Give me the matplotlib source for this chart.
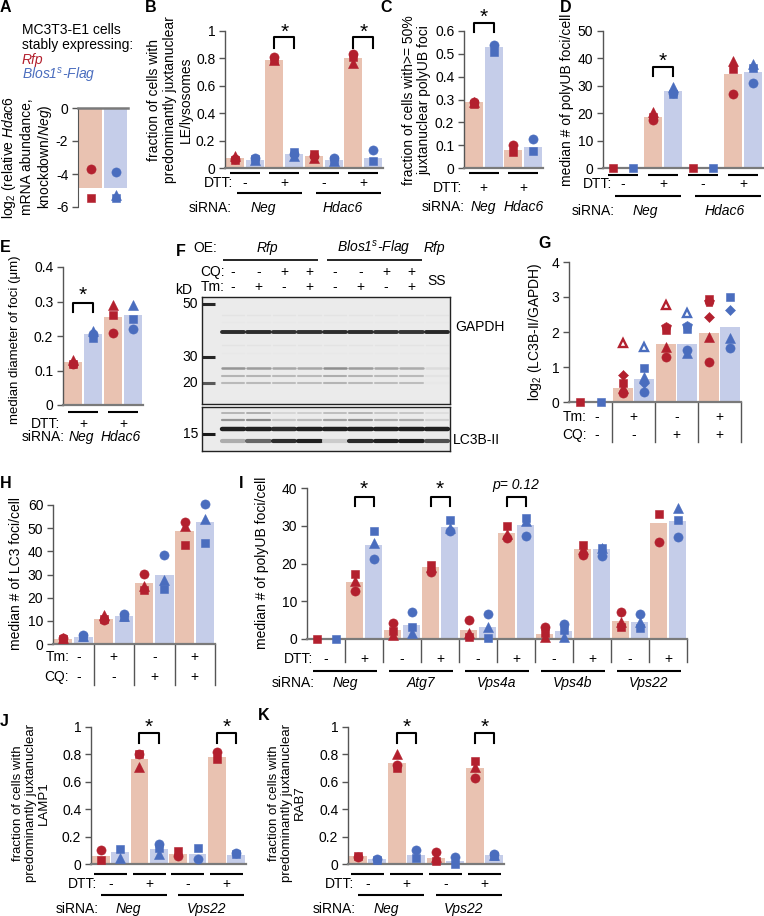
import matplotlib
matplotlib.use('Agg')
import matplotlib.pyplot as plt
from matplotlib.transforms import Affine2D, blended_transform_factory

plt.rcParams['font.family'] = ['Liberation Sans', 'DejaVu Sans']
plt.rcParams['mathtext.fontset'] = 'custom'
plt.rcParams['mathtext.rm'] = 'Liberation Sans'
plt.rcParams['mathtext.it'] = 'Liberation Sans:italic'
plt.rcParams['mathtext.bf'] = 'Liberation Sans:bold'
plt.rcParams['axes.unicode_minus'] = False
plt.rcParams['font.size'] = 10

# ---------------- data ----------------
a_bars = [-4.85, -4.85]
a_circle = [-3.7, -3.9]
a_square = [-5.45, -5.45]
a_triangle = [None, -5.3]

b_bars = [0.07, 0.06, 0.79, 0.105, 0.085, 0.055, 0.805, 0.075]
b_circle = [0.065, 0.075, 0.81, 0.10, 0.09, 0.07, 0.83, 0.13]
b_square = [0.06, 0.065, 0.79, 0.12, 0.10, 0.055, 0.81, 0.05]
b_triangle = [0.085, 0.06, 0.79, 0.085, 0.07, 0.05, 0.77, None]
b_dtt = ['-', '+', '-', '+']
b_sirna = ['Neg', 'Hdac6']

c_bars = [0.29, 0.53, 0.078, 0.092]
c_circle = [0.29, 0.54, 0.10, 0.125]
c_square = [0.28, 0.51, 0.07, 0.075]
c_triangle = [0.29, None, None, None]
c_dtt = ['+', '+']
c_sirna = ['Neg', 'Hdac6']

d_bars = [0, 0, 18.7, 28.0, 0, 0, 34.3, 35.2]
d_circle = [None, None, 17.5, 27.5, None, None, 27.0, 31.0]
d_square = [0, 0, 18.5, 27.0, 0, 0, 36.0, 36.5]
d_triangle = [None, None, 20.5, 29.5, None, None, 39.0, 38.0]
d_dtt = ['-', '+', '-', '+']
d_sirna = ['Neg', 'Hdac6']

e_bars = [0.125, 0.205, 0.255, 0.26]
e_circle = [0.12, 0.205, 0.21, 0.22]
e_square = [0.12, 0.195, 0.26, 0.25]
e_triangle = [0.13, 0.215, 0.29, 0.29]
e_dtt = ['+', '+']
e_sirna = ['Neg', 'Hdac6']

f_cq = ['-', '-', '+', '+', '-', '-', '+', '+']
f_tm = ['-', '+', '-', '+', '-', '+', '-', '+']
f_ladder_kd = ['50', '30', '20', '15']
f_gapdh = [0.9, 0.9, 0.88, 0.88, 0.9, 0.9, 0.88, 0.86, 0.92]
f_band_a = [0.45, 0.42, 0.38, 0.38, 0.48, 0.42, 0.38, 0.36, 0.15]
f_band_b = [0.32, 0.32, 0.3, 0.3, 0.35, 0.32, 0.3, 0.3, 0.12]
f_band_c = [0.3, 0.3, 0.28, 0.28, 0.32, 0.3, 0.28, 0.28, 0.1]
f_lc3_top = [0.45, 0.5, 0.25, 0.3, 0.4, 0.45, 0.35, 0.35, 0.2]
f_lc3b_i = [0.95, 0.95, 0.9, 0.95, 0.95, 0.95, 0.95, 0.95, 0.95]
f_lc3b_ii = [0.35, 0.65, 0.9, 0.95, 0.22, 0.9, 0.95, 0.95, 0.75]

g_bars = [0, 0, 0.40, 0.67, 1.65, 1.65, 1.97, 2.13]
g_circle = [None, None, 0.27, 0.30, 1.29, 1.50, 1.14, 1.55]
g_square = [0, 0, 0.53, 0.98, 2.05, 2.08, 2.95, 3.00]
g_triangle = [None, None, 0.40, 0.72, 1.58, 1.39, 1.86, 1.84]
g_diamond = [None, None, 0.76, 0.55, None, None, 2.44, 2.63]
g_open_tri = [None, None, 1.69, 1.58, 2.77, 2.55, None, None]
g_pentagon = [None, None, None, None, 2.13, 2.17, 2.86, None]
g_tm = ['-', '+', '-', '+']
g_cq = ['-', '-', '+', '+']

h_bars = [2.3, 3.2, 11.0, 12.2, 26.3, 29.8, 48.8, 52.6]
h_circle = [2.8, 4.0, 10.5, 12.8, 30.2, 38.4, 52.6, 60.3]
h_square = [2.0, 3.0, 11.0, 11.5, 23.5, 23.7, 42.7, 43.5]
h_triangle = [2.5, 3.5, 12.5, 12.0, 25.0, 27.6, 51.0, 54.0]
h_tm = ['-', '+', '-', '+']
h_cq = ['-', '-', '+', '+']

i_bars = [0, 0, 15.0, 25.0, 2.3, 3.6, 19.0, 29.7, 2.3, 3.2, 28.0, 30.3,
          1.3, 2.1, 23.8, 23.8, 4.7, 4.5, 30.7, 31.3]
i_circle = [None, None, 12.7, 21.3, 4.2, 7.2, 17.7, 28.5, 5.1, 6.6, 26.8, 27.4,
            3.1, 4.1, 22.2, 22.0, 7.1, 6.6, 25.7, 27.1]
i_square = [0, 0, 17.1, 28.5, 2.0, 3.1, 19.7, 31.5, 0.5, 0.3, 30.0, 32.0,
            1.5, 2.3, 24.9, 24.0, 3.1, 3.0, 33.1, 31.6]
i_triangle = [None, None, 15.3, 25.5, 1.0, 1.6, 19.0, 29.5, 1.5, 3.1, 27.9, 31.3,
              0.5, 0.5, 23.8, 24.0, 4.5, 4.6, None, 34.8]
i_dtt = ['-', '+', '-', '+', '-', '+', '-', '+', '-', '+']
i_sirna = ['Neg', 'Atg7', 'Vps4a', 'Vps4b', 'Vps22']

j_bars = [0.055, 0.085, 0.77, 0.11, 0.07, 0.07, 0.78, 0.065]
j_circle = [0.10, None, 0.80, 0.145, 0.06, 0.04, 0.82, 0.08]
j_square = [0.03, 0.11, 0.80, 0.12, 0.095, 0.12, 0.77, 0.07]
j_triangle = [None, 0.045, 0.71, 0.07, None, None, None, None]
j_dtt = ['-', '+', '-', '+']
j_sirna = ['Neg', 'Vps22']

k_bars = [0.055, 0.035, 0.74, 0.065, 0.045, 0.02, 0.70, 0.065]
k_circle = [0.05, 0.04, 0.72, 0.10, 0.09, 0.05, 0.63, 0.075]
k_square = [0.06, 0.03, 0.70, 0.045, 0.02, 0.0, 0.75, 0.06]
k_triangle = [None, None, 0.80, None, 0.05, None, 0.71, 0.065]
k_dtt = ['-', '+', '-', '+']
k_sirna = ['Neg', 'Vps22']

# ---------------- style ----------------
RFP_BAR = '#E9C2B1'
BLOS_BAR = '#C5CDE9'
RFP_PT = '#B3202E'
BLOS_PT = '#4A6DBE'
SPINE = '#555555'
BASE = '#7a7a7a'

W, H = 764, 916
fig = plt.figure(figsize=(W / 100, H / 100), dpi=100)
fig.patch.set_facecolor('white')
PX = Affine2D().scale(1 / W, -1 / H).translate(0, 1) + fig.transFigure


def px_axes(l, t, r, b):
    return fig.add_axes([l / W, 1 - b / H, (r - l) / W, (b - t) / H])


def bx(ax):
    return blended_transform_factory(ax.transData, PX)


def ftext(x, y, s, **kw):
    kw.setdefault('ha', 'center')
    kw.setdefault('va', 'center')
    fig.text(x, y, s, transform=PX, **kw)


def letter(x, y, s):
    ftext(x, y, s, ha='left', fontsize=11.5, fontweight='bold')


def ylab(x, y, s, fs=10):
    ftext(x, y, s, rotation=90, multialignment='center', linespacing=1.15, fontsize=fs)


def bar_axes(l, t, r, b, n, ylim, ticks, labels):
    ax = px_axes(l, t, r, b)
    ax.set_xlim(-0.5, n - 0.5)
    ax.set_ylim(*ylim)
    ax.set_yticks(ticks)
    ax.set_yticklabels(labels)
    ax.set_xticks([])
    for s in ('top', 'right'):
        ax.spines[s].set_visible(False)
    ax.spines['left'].set_color(SPINE)
    ax.spines['left'].set_linewidth(1.0)
    ax.spines['bottom'].set_color(BASE)
    ax.spines['bottom'].set_linewidth(1.6)
    ax.tick_params(axis='y', direction='out', length=4, width=1, color=SPINE,
                   labelsize=10, pad=3)
    ax.patch.set_visible(False)
    return ax


def draw_bars(ax, vals, width=0.92):
    cols = [RFP_BAR if i % 2 == 0 else BLOS_BAR for i in range(len(vals))]
    ax.bar(range(len(vals)), vals, width=width, color=cols, zorder=1, linewidth=0)


def draw_pts(ax, vals, marker, ms, open_=False):
    for i, v in enumerate(vals):
        if v is None:
            continue
        c = RFP_PT if i % 2 == 0 else BLOS_PT
        ax.plot([i], [v], marker=marker, ms=ms, color=c, mec=c,
                mfc='white' if open_ else c, mew=1.7 if open_ else 0.4,
                ls='none', zorder=3, clip_on=False)


def std_pts(ax, circ, sq, tri):
    draw_pts(ax, circ, 'o', 6.6)
    draw_pts(ax, sq, 's', 5.8)
    draw_pts(ax, tri, '^', 6.8)


def hl(ax, x1, x2, y, lw=1.5, color='k'):
    ax.plot([x1, x2], [y, y], transform=bx(ax), color=color, lw=lw,
            clip_on=False, solid_capstyle='butt')


def vl(ax, x, y1, y2, lw=1.0, color=SPINE):
    ax.plot([x, x], [y1, y2], transform=bx(ax), color=color, lw=lw, clip_on=False)


def tx(ax, x, y, s, **kw):
    kw.setdefault('ha', 'center')
    kw.setdefault('va', 'center')
    ax.text(x, y, s, transform=bx(ax), clip_on=False, **kw)


def bracket(ax, i1, i2, ytop, ybot, ystar, s='*', **kw):
    ax.plot([i1, i1, i2, i2], [ybot, ytop, ytop, ybot], transform=bx(ax),
            color='k', lw=1.5, clip_on=False)
    if s == '*':
        tx(ax, (i1 + i2) / 2, ystar + 10, '*', fontsize=15, va='baseline')
    else:
        tx(ax, (i1 + i2) / 2, ystar, s, **kw)


def pair_annot(ax, dtt, sirna, y_l1, y_dtt, y_l2, y_si, dtt_x, si_x,
               half1=0.75, half2=1.65, off2=0.25, lab_off=0.0):
    for k, s in enumerate(dtt):
        c = 2 * k + 0.5
        hl(ax, c - half1, c + half1, y_l1)
        tx(ax, c, y_dtt, s)
    tx(ax, dtt_x, y_dtt, 'DTT:', ha='right')
    per = len(dtt) // len(sirna)
    for k, s in enumerate(sirna):
        c = 2 * per * k + per - 0.5
        if per > 1:
            hl(ax, c + off2 - half2, c + off2 + half2, y_l2)
        tx(ax, c + lab_off, y_si, s, style='italic')
    tx(ax, si_x, y_si, 'siRNA:', ha='right')


# ---------------- Panel A ----------------
letter(0, 8, 'A')
ftext(22, 30, 'MC3T3-E1 cells', ha='left')
ftext(22, 45, 'stably expressing:', ha='left')
ftext(22, 60, 'Rfp', ha='left', style='italic', color=RFP_PT)
ftext(22, 75, r'Blos1$^{s}$-Flag', ha='left', style='italic', color=BLOS_PT)
axA = px_axes(78, 108, 128, 207)
axA.set_xlim(-0.5, 1.5)
axA.set_ylim(-6, 0)
axA.set_yticks([0, -2, -4, -6])
axA.set_yticklabels(['0', '-2', '-4', '-6'])
axA.set_xticks([])
for s in ('bottom', 'right'):
    axA.spines[s].set_visible(False)
axA.spines['left'].set_color(SPINE)
axA.spines['top'].set_color(BASE)
axA.spines['top'].set_linewidth(1.8)
axA.tick_params(axis='y', direction='out', length=4, width=1, color=SPINE, labelsize=10, pad=3)
axA.patch.set_visible(False)
draw_bars(axA, a_bars, width=0.9)
draw_pts(axA, a_circle, 'o', 6.6)
draw_pts(axA, a_triangle, '^', 6.8)
draw_pts(axA, a_square, 's', 5.8)
ylab(27, 157, 'log$_2$ (relative $\\mathit{Hdac6}$\nmRNA abundance,\nknockdown/$\\mathit{Neg}$)')

# ---------------- Panel B ----------------
letter(145, 8, 'B')
axB = bar_axes(225, 31, 383, 168, 8, (0, 1), [0, 0.2, 0.4, 0.6, 0.8, 1],
               ['0', '0.2', '0.4', '0.6', '0.8', '1'])
draw_bars(axB, b_bars)
std_pts(axB, b_circle, b_square, b_triangle)
bracket(axB, 2, 3, 37, 48, 28)
bracket(axB, 6, 7, 37, 48, 28)
pair_annot(axB, b_dtt, b_sirna, 173, 183, 193, 208, -0.1, -0.15, lab_off=-0.05)
ylab(170, 100, 'fraction of cells with\npredominantly juxtanuclear\nLE/lysosomes')

# ---------------- Panel C ----------------
letter(380, 8, 'C')
axC = bar_axes(464, 31, 543, 168, 4, (0, 0.6), [0, 0.1, 0.2, 0.3, 0.4, 0.5, 0.6],
               ['0', '0.1', '0.2', '0.3', '0.4', '0.5', '0.6'])
draw_bars(axC, c_bars)
std_pts(axC, c_circle, c_square, c_triangle)
bracket(axC, 0, 1, 23, 32, 13)
pair_annot(axC, c_dtt, c_sirna, 173, 188, None, 207, -0.6, -0.45)
ylab(417, 100, 'fraction of cells with>= 50%\njuxtanuclear polyUB foci')

# ---------------- Panel D ----------------
letter(560, 8, 'D')
axD = bar_axes(603, 31, 763, 168, 8, (0, 50), [0, 10, 20, 30, 40, 50],
               ['0', '10', '20', '30', '40', '50'])
draw_bars(axD, d_bars)
std_pts(axD, d_circle, d_square, d_triangle)
bracket(axD, 2, 3, 67, 76, 57)
pair_annot(axD, d_dtt, d_sirna, 175, 184, 196, 211, -0.05, 0.1, lab_off=0.1)
ylab(567, 100, 'median # of polyUB foci/cell')

# ---------------- Panel E ----------------
letter(0, 247, 'E')
axE = bar_axes(63, 267, 143, 405, 4, (0, 0.4), [0, 0.1, 0.2, 0.3, 0.4],
               ['0', '0.1', '0.2', '0.3', '0.4'])
draw_bars(axE, e_bars)
std_pts(axE, e_circle, e_square, e_triangle)
bracket(axE, 0, 1, 303, 312, 291)
pair_annot(axE, e_dtt, e_sirna, 412, 424, None, 437, -0.65, -0.4, lab_off=-0.1)
ylab(15, 340, 'median diameter of foci (μm)', fs=9.5)

# ---------------- Panel F (blot) ----------------
letter(176, 251, 'F')
lanes = list(range(9))
ftext(217, 248, 'OE:', ha='right')
ftext(267, 248, 'Rfp', style='italic')
ftext(374, 248, r'Blos1$^{s}$-Flag', style='italic')
ftext(434, 248, 'Rfp', style='italic')
ftext(225, 272, 'CQ:', ha='right')
ftext(225, 287, 'Tm:', ha='right')
ftext(192, 290, 'kD', ha='right')
ftext(437, 281, 'SS')

axF1 = px_axes(202, 297, 450, 404)
axF2 = px_axes(202, 407, 450, 451)
for ax, (yb, yt) in ((axF1, (404, 297)), (axF2, (451, 407))):
    ax.set_xlim(-1.22, 8.51)
    ax.set_ylim(yb, yt)
    ax.set_xticks([])
    ax.set_yticks([])
    ax.set_facecolor('#ebebeb')
    for s in ax.spines.values():
        s.set_color('#222222')
        s.set_linewidth(1.0)

# OE underlines and lane labels (use lane coordinates of blot axes)
hl(axF1, -0.4, 3.35, 260, lw=1.2)
hl(axF1, 3.7, 7.4, 260, lw=1.2)
for i, (cq, tm) in enumerate(zip(f_cq, f_tm)):
    tx(axF1, i, 272, cq)
    tx(axF1, i, 287, tm)


def band_row(ax, y, vals, lw, half=0.44):
    for i, v in zip(lanes, vals):
        g = 1 - 0.92 * v
        ax.plot([i - half, i + half], [y, y], color=(g, g, g), lw=lw,
                solid_capstyle='round')


band_row(axF1, 315, [0.12] * 9, 1.0)
band_row(axF1, 322, [0.1] * 9, 1.0)
band_row(axF1, 332, f_gapdh, 2.8)
band_row(axF1, 345, [0.12] * 9, 1.0)
band_row(axF1, 353, [0.1] * 9, 1.0)
band_row(axF1, 368, f_band_a, 1.8)
band_row(axF1, 376, f_band_b, 1.5)
band_row(axF1, 383, f_band_c, 1.5)
band_row(axF2, 413, [v * 0.7 for v in f_lc3_top], 1.4)
band_row(axF2, 420, f_lc3_top, 1.6)
band_row(axF2, 429, f_lc3b_i, 3.2)
band_row(axF2, 441, f_lc3b_ii, 3.0)
for kd, y, ax, c in zip(f_ladder_kd, (304, 357, 383, 434),
                        (axF1, axF1, axF1, axF2), (0.15, 0.15, 0.35, 0.1)):
    ax.plot([-1.22, -0.72], [y, y], color=(c, c, c), lw=2.2, solid_capstyle='butt')
    ftext(198, y, kd, ha='right')
ftext(455, 327, 'GAPDH', ha='left')
ftext(453, 440, 'LC3B-II', ha='left')

# ---------------- Panel G ----------------
letter(538, 244, 'G')
axG = bar_axes(569, 262, 741, 402, 8, (0, 4), [0, 1, 2, 3, 4],
               ['0', '1', '2', '3', '4'])
draw_bars(axG, g_bars)
draw_pts(axG, g_open_tri, '^', 6.2, open_=True)
draw_pts(axG, g_pentagon, 'p', 7.0)
draw_pts(axG, g_diamond, 'D', 5.0)
std_pts(axG, g_circle, g_square, g_triangle)
for k in range(4):
    vl(axG, 2 * k + 1.5, 402, 442)
    cx = 0.8 if k == 0 else 2 * k + 0.5
    tx(axG, cx, 417, g_tm[k])
    tx(axG, cx, 435, g_cq[k])
tx(axG, 0.34, 417, 'Tm:', ha='right')
tx(axG, 0.34, 435, 'CQ:', ha='right')
ylab(535, 332, 'log$_2$ (LC3B-II/GAPDH)')

# ---------------- Panel H ----------------
letter(0, 483, 'H')
axH = bar_axes(53, 505, 215, 644, 8, (0, 60), [0, 10, 20, 30, 40, 50, 60],
               ['0', '10', '20', '30', '40', '50', '60'])
draw_bars(axH, h_bars)
std_pts(axH, h_circle, h_square, h_triangle)
for k in range(4):
    vl(axH, 2 * k + 1.5, 644, 685)
    cx = 0.78 if k == 0 else 2 * k + 0.5
    tx(axH, cx, 657, h_tm[k])
    tx(axH, cx, 677, h_cq[k])
tx(axH, 0.3, 657, 'Tm:', ha='right')
tx(axH, 0.3, 677, 'CQ:', ha='right')
ylab(16, 574, 'median # of LC3 foci/cell')

# ---------------- Panel I ----------------
letter(239, 483, 'I')
axI = bar_axes(307, 488, 687, 639, 20, (0, 40), [0, 10, 20, 30, 40],
               ['0', '10', '20', '30', '40'])
draw_bars(axI, i_bars)
std_pts(axI, i_circle, i_square, i_triangle)
for k, s in enumerate(i_dtt):
    vl(axI, 2 * k + 1.5, 639, 662)
    tx(axI, 2 * k + 0.5, 659, s)
tx(axI, -0.18, 659, 'DTT:', ha='right')
for k, s in enumerate(i_sirna):
    c = 4 * k + 1.5
    hl(axI, c - 1.71, c + 1.71, 671)
    tx(axI, c, 683, s, style='italic')
tx(axI, -0.08, 683, 'siRNA:', ha='right')
bracket(axI, 2, 3, 497, 506, 485)
bracket(axI, 6, 7, 497, 506, 485)
bracket(axI, 10, 11, 497, 506, 485, s='p= 0.12', style='italic')
ylab(262, 563, 'median # of polyUB foci/cell')

# ---------------- Panel J ----------------
letter(0, 721, 'J')
axJ = bar_axes(91, 727, 246, 864, 8, (0, 1), [0, 0.2, 0.4, 0.6, 0.8, 1],
               ['0', '0.2', '0.4', '0.6', '0.8', '1'])
draw_bars(axJ, j_bars)
std_pts(axJ, j_circle, j_square, j_triangle)
bracket(axJ, 2, 3, 733, 743, 723)
bracket(axJ, 6, 7, 733, 743, 723)
pair_annot(axJ, j_dtt, j_sirna, 874, 884, 895, 909, -0.19, -0.12,
           half1=0.85, half2=1.7, off2=0.2, lab_off=-0.05)
ylab(31, 803, 'fraction of cells with\npredominantly juxtanuclear\nLAMP1', fs=9.5)

# ---------------- Panel K ----------------
letter(258, 716, 'K')
axK = bar_axes(348, 727, 504, 864, 8, (0, 1), [0, 0.2, 0.4, 0.6, 0.8, 1],
               ['0', '0.2', '0.4', '0.6', '0.8', '1'])
draw_bars(axK, k_bars)
std_pts(axK, k_circle, k_square, k_triangle)
bracket(axK, 2, 3, 733, 743, 723)
bracket(axK, 6, 7, 733, 743, 723)
pair_annot(axK, k_dtt, k_sirna, 874, 884, 895, 909, -0.19, -0.12,
           half1=0.85, half2=1.7, off2=0.2, lab_off=-0.05)
ylab(287, 803, 'fraction of cells with\npredominantly juxtanuclear\nRAB7', fs=9.5)

fig.savefig('out.png', dpi=100, facecolor='white')
